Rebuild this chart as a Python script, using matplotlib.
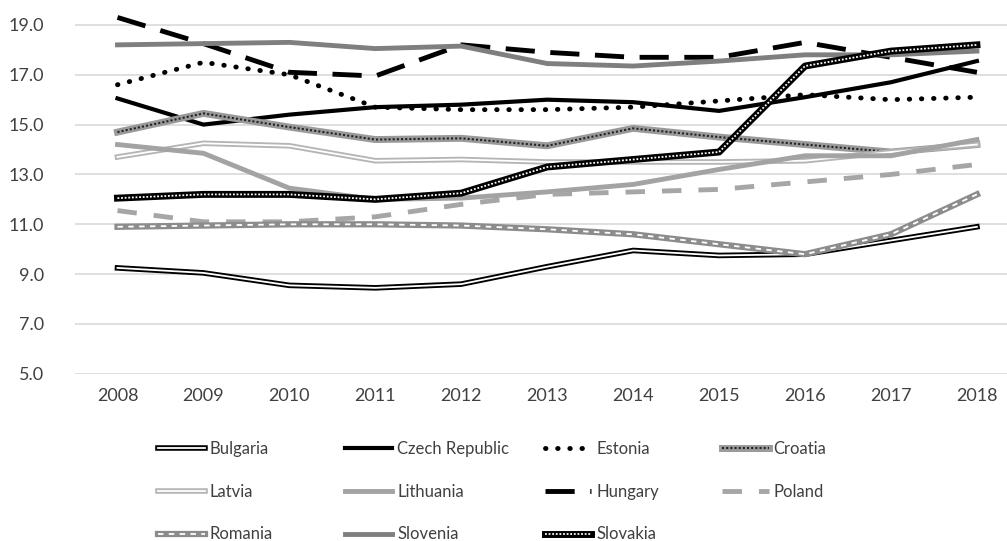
import matplotlib
matplotlib.use('Agg')
import matplotlib.pyplot as plt
from matplotlib.legend_handler import HandlerTuple

plt.rcParams['font.family'] = ['Lato', 'DejaVu Sans']

years = list(range(2008, 2019))

bulgaria = [9.25, 9.05, 8.55, 8.45, 8.6, 9.3, 9.95, 9.75, 9.8, 10.35, 10.9]
czech = [16.05, 15.0, 15.4, 15.7, 15.8, 16.0, 15.9, 15.55, 16.1, 16.7, 17.55]
estonia = [16.6, 17.5, 17.0, 15.7, 15.6, 15.6, 15.7, 15.95, 16.2, 16.0, 16.1]
croatia = [14.7, 15.45, 14.9, 14.4, 14.45, 14.15, 14.85, 14.5, 14.2, 13.9, 14.2]
latvia = [13.7, 14.25, 14.15, 13.55, 13.6, 13.5, 13.5, 13.5, 13.55, 13.9, 14.2]
lithuania = [14.2, 13.85, 12.45, 12.0, 12.05, 12.3, 12.6, 13.2, 13.75, 13.75, 14.4]
hungary = [19.3, 18.25, 17.1, 16.95, 18.2, 17.9, 17.7, 17.7, 18.3, 17.7, 17.1]
poland = [11.55, 11.1, 11.1, 11.3, 11.8, 12.2, 12.3, 12.4, 12.7, 13.0, 13.4]
romania = [10.9, 10.95, 11.0, 11.0, 10.95, 10.8, 10.6, 10.2, 9.8, 10.6, 12.2]
slovenia = [18.2, 18.25, 18.3, 18.05, 18.15, 17.45, 17.35, 17.55, 17.8, 17.8, 17.95]
slovakia = [12.05, 12.2, 12.2, 12.0, 12.25, 13.3, 13.6, 13.9, 17.35, 17.95, 18.2]

fig = plt.figure(figsize=(10.07, 5.41), dpi=100)
ax = fig.add_axes([0.074, 0.309, 0.926, 0.691])

def draw(values, outer, inner=None):
    h = [ax.plot(years, values, **outer)[0]]
    if inner is not None:
        h.append(ax.plot(years, values, **inner)[0])
    return tuple(h)

h_bg = draw(bulgaria, dict(color='black', lw=4), dict(color='white', lw=1.3))
h_cz = draw(czech, dict(color='black', lw=3))
h_ee = draw(estonia, dict(color='black', lw=3.5, linestyle=(0, (0.1, 2.4)), dash_capstyle='round'))
h_hr = draw(croatia, dict(color='#9a9a9a', lw=5), dict(color='#222222', lw=1.5, linestyle=(0, (1, 1))))
h_lv = draw(latvia, dict(color='#b5b5b5', lw=4), dict(color='white', lw=1.3))
h_lt = draw(lithuania, dict(color='#a3a3a3', lw=3.5))
h_hu = draw(hungary, dict(color='black', lw=3.5, linestyle=(0, (6, 3.2))))
h_pl = draw(poland, dict(color='#a6a6a6', lw=3.5, linestyle=(0, (4, 3.5))))
h_ro = draw(romania, dict(color='#8c8c8c', lw=4.5), dict(color='white', lw=1.3, linestyle=(0, (3, 3))))
h_si = draw(slovenia, dict(color='#7f7f7f', lw=3.5))
h_sk = draw(slovakia, dict(color='black', lw=5), dict(color='white', lw=1.3, linestyle=(0, (1, 1))))

ax.set_xlim(2007.5, 2018.35)
ax.set_ylim(5, 20)
ax.set_yticks([5, 7, 9, 11, 13, 15, 17, 19])
ax.set_yticklabels(['%.1f' % v for v in [5, 7, 9, 11, 13, 15, 17, 19]])
ax.set_xticks(years)
ax.grid(axis='y', color='#d9d9d9', lw=1.2)
ax.set_axisbelow(True)
for s in ax.spines.values():
    s.set_visible(False)
ax.tick_params(length=0, labelsize=13, colors='#404040', pad=10)
ax.tick_params(axis='y', pad=22)

columns = [
    ([h_bg, h_lv, h_ro], ['Bulgaria', 'Latvia', 'Romania'], 0.157),
    ([h_cz, h_lt, h_si], ['Czech Republic', 'Lithuania', 'Slovenia'], 0.343),
    ([h_ee, h_hu, h_sk], ['Estonia', 'Hungary', 'Slovakia'], 0.541),
    ([h_hr, h_pl], ['Croatia', 'Poland'], 0.717),
]
for handles, labels, x in columns:
    fig.legend(handles, labels, loc='upper left', bbox_to_anchor=(x, 1 - 441 / 541),
               frameon=False, borderpad=0, borderaxespad=0, fontsize=12,
               handlelength=2.8, handletextpad=0.3, labelspacing=1.6,
               labelcolor='#404040',
               handler_map={tuple: HandlerTuple(ndivide=1)})

fig.savefig('out.png', dpi=100)
